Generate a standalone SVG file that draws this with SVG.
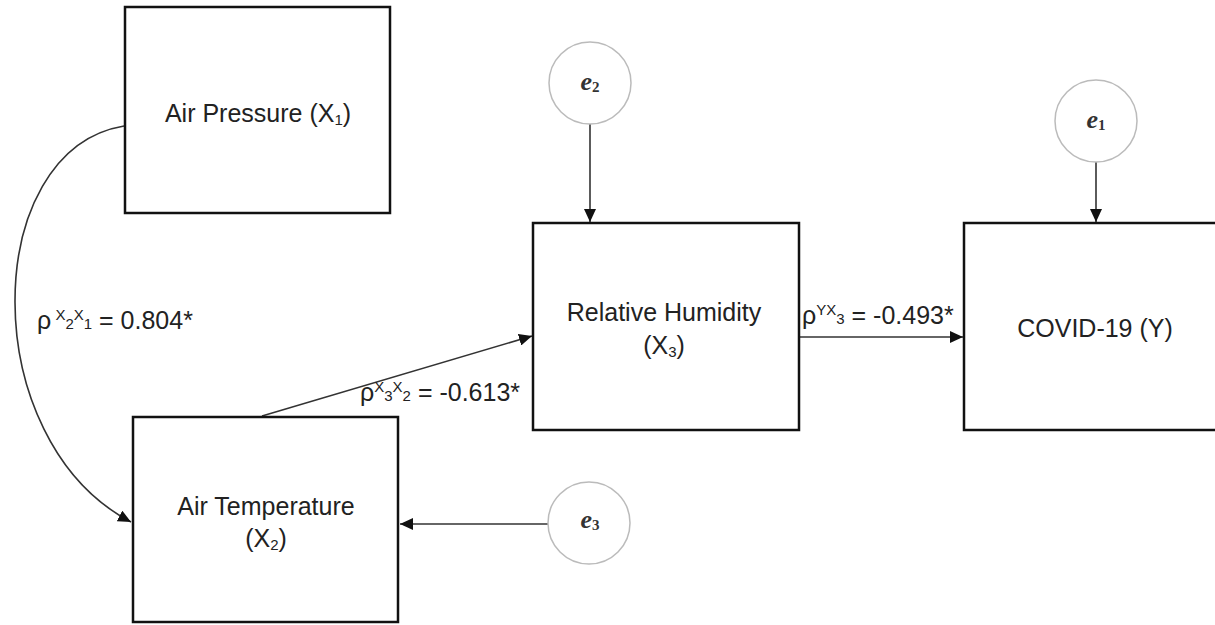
<svg xmlns="http://www.w3.org/2000/svg" width="1215" height="625" viewBox="0 0 1215 625">
<style>
.box{fill:#fff;stroke:#111;stroke-width:2.5}
.circ{fill:#fff;stroke:#bbb;stroke-width:1.5}
.lbl{font-family:"Liberation Sans",Arial,sans-serif;font-size:25px;fill:#222}
.el{font-family:"Liberation Serif","Times New Roman",serif;font-style:italic;font-weight:bold;font-size:26px;fill:#333}
.es{font-size:15px;font-style:normal}
.conn{fill:none;stroke:#333;stroke-width:1.6}
.sm{font-size:15px}
</style>
<defs>
<marker id="ah" markerUnits="userSpaceOnUse" markerWidth="14" markerHeight="12" refX="13" refY="6" orient="auto">
<path d="M0,0 L13,6 L0,12 Z" fill="#111"/>
</marker>
</defs>
<rect width="1215" height="625" fill="#fff"/>
<g id="connectors">
<path class="conn" d="M124,126 C-20,150 -25,440 131,522" marker-end="url(#ah)"/>
<line class="conn" x1="262" y1="416" x2="532" y2="336" marker-end="url(#ah)"/>
<line class="conn" x1="799" y1="337" x2="963" y2="337" marker-end="url(#ah)"/>
<line class="conn" x1="590" y1="124" x2="590" y2="222" marker-end="url(#ah)"/>
<line class="conn" x1="1096" y1="162" x2="1096" y2="222" marker-end="url(#ah)"/>
<line class="conn" x1="548" y1="524" x2="400" y2="524" marker-end="url(#ah)"/>
<text class="lbl" x="37" y="329">ρ<tspan class="sm" dy="-9"> X</tspan><tspan class="sm" dy="9">2</tspan><tspan class="sm" dy="-9">X</tspan><tspan class="sm" dy="9">1</tspan> = 0.804*</text>
<text class="lbl" x="360" y="401">ρ<tspan class="sm" dy="-9">X</tspan><tspan class="sm" dy="9">3</tspan><tspan class="sm" dy="-9">X</tspan><tspan class="sm" dy="9">2</tspan> = -0.613*</text>
<text class="lbl" x="802" y="324">ρ<tspan class="sm" dy="-9">YX</tspan><tspan class="sm" dy="9">3</tspan> = -0.493*</text>
</g>
<g id="x1">
<rect class="box" x="125" y="7" width="265" height="206"/>
<text class="lbl" x="258" y="122" text-anchor="middle">Air Pressure (X<tspan class="sm" dy="3">1</tspan><tspan dy="-3">)</tspan></text>
</g>
<g id="x2">
<rect class="box" x="133" y="417" width="265" height="205"/>
<text class="lbl" x="266" y="515" text-anchor="middle">Air Temperature</text>
<text class="lbl" x="266" y="547" text-anchor="middle">(X<tspan class="sm" dy="3">2</tspan><tspan dy="-3">)</tspan></text>
</g>
<g id="x3">
<rect class="box" x="533" y="223" width="266" height="207"/>
<text class="lbl" x="664" y="321" text-anchor="middle">Relative Humidity</text>
<text class="lbl" x="664" y="354" text-anchor="middle">(X<tspan class="sm" dy="3">3</tspan><tspan dy="-3">)</tspan></text>
</g>
<g id="y">
<rect class="box" x="964" y="223" width="266" height="207"/>
<text class="lbl" x="1095" y="337" text-anchor="middle">COVID-19 (Y)</text>
</g>
<g id="e2">
<circle class="circ" cx="590" cy="83" r="41"/>
<text class="el" x="590" y="90" text-anchor="middle">e<tspan class="es" dy="2">2</tspan></text>
</g>
<g id="e1">
<circle class="circ" cx="1096" cy="121" r="41"/>
<text class="el" x="1096" y="128" text-anchor="middle">e<tspan class="es" dy="2">1</tspan></text>
</g>
<g id="e3">
<circle class="circ" cx="589" cy="523" r="41"/>
<text class="el" x="590" y="528" text-anchor="middle">e<tspan class="es" dy="2">3</tspan></text>
</g>
</svg>
